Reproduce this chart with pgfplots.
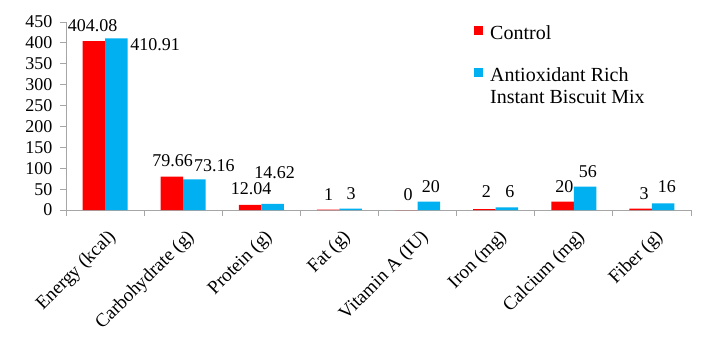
\documentclass[border=0pt]{standalone}
\usepackage{fontspec}
\setmainfont{Liberation Serif}
\usepackage{pgfplots}
\pgfplotsset{compat=1.18}
\definecolor{ctrl}{HTML}{FF0000}
\definecolor{anti}{HTML}{00B0F0}
\definecolor{axgray}{HTML}{A6A6A6}
\begin{document}
\begin{tikzpicture}
\path[use as bounding box] (-66pt,-135pt) rectangle (641pt,210pt);
\begin{axis}[
  at={(0,0)}, anchor=south west,
  scale only axis, width=625pt, height=188pt,
  font=\fontsize{18}{21}\selectfont,
  /pgf/number format/assume math mode=true,
  xmin=-0.5, xmax=7.5, ymin=0, ymax=450,
  ytick={0,50,...,450},
  xtick={-0.5,0.5,...,7.5},
  xticklabels={},
  extra x ticks={0,1,2,3,4,5,6,7},
  extra x tick labels={Energy (kcal), Carbohydrate (g), Protein (g), Fat (g), Vitamin A (IU), Iron (mg), Calcium (mg), Fiber (g)},
  extra x tick style={major tick length=0pt, xticklabel style={font=\fontsize{19}{22}\selectfont, xshift=2pt, yshift=-18pt, rotate=45, anchor=north east, inner sep=0pt}},
  axis x line*=bottom, axis y line*=left,
  axis line style={axgray, line width=0.8pt},
  tick style={axgray, line width=0.8pt},
  tick align=outside, major tick length=6pt,
  yticklabel style={black, xshift=-4pt},
  clip=false,
  legend cell align=left,
  legend style={at={(0.648,1.005)}, anchor=north west, draw=none, fill=none,
    font=\fontsize{20}{22}\selectfont, row sep=21pt, column sep=5pt,
    cells={anchor=base west}},
  legend image code/.code={\fill[#1] (0pt,4.5pt) rectangle (9pt,13pt);},
]
\addplot[ybar, bar width=22.5pt, bar shift=-11.25pt, fill=ctrl, draw=none] coordinates {
  (0,404.08) (1,79.66) (2,12.04) (3,1) (4,0) (5,2) (6,20) (7,3)};
\addlegendentry{Control}
\addplot[ybar, bar width=22.5pt, bar shift=11.25pt, fill=anti, draw=none] coordinates {
  (0,410.91) (1,73.16) (2,14.62) (3,3) (4,20) (5,6) (6,56) (7,16)};
\addlegendentry{\begin{tabular}[t]{@{}l@{}}Antioxidant Rich\\Instant Biscuit Mix\end{tabular}}
\addplot[only marks, mark=none, forget plot, nodes near coords, point meta=explicit symbolic,
  every node near coord/.append style={anchor=center, inner sep=0pt, black}] table[meta=label] {
x y label
-0.16 441 404.08
0.865 117 79.66
1.87 50 12.04
2.86 38 1
3.88 38 0
4.88 43 2
5.88 55 20
6.90 38 3
0.64 397 410.91
1.40 105 73.16
2.17 90 14.62
3.15 38 3
4.17 57 20
5.18 43 6
6.18 93 56
7.19 55 16
};
\end{axis}
\end{tikzpicture}
\end{document}
